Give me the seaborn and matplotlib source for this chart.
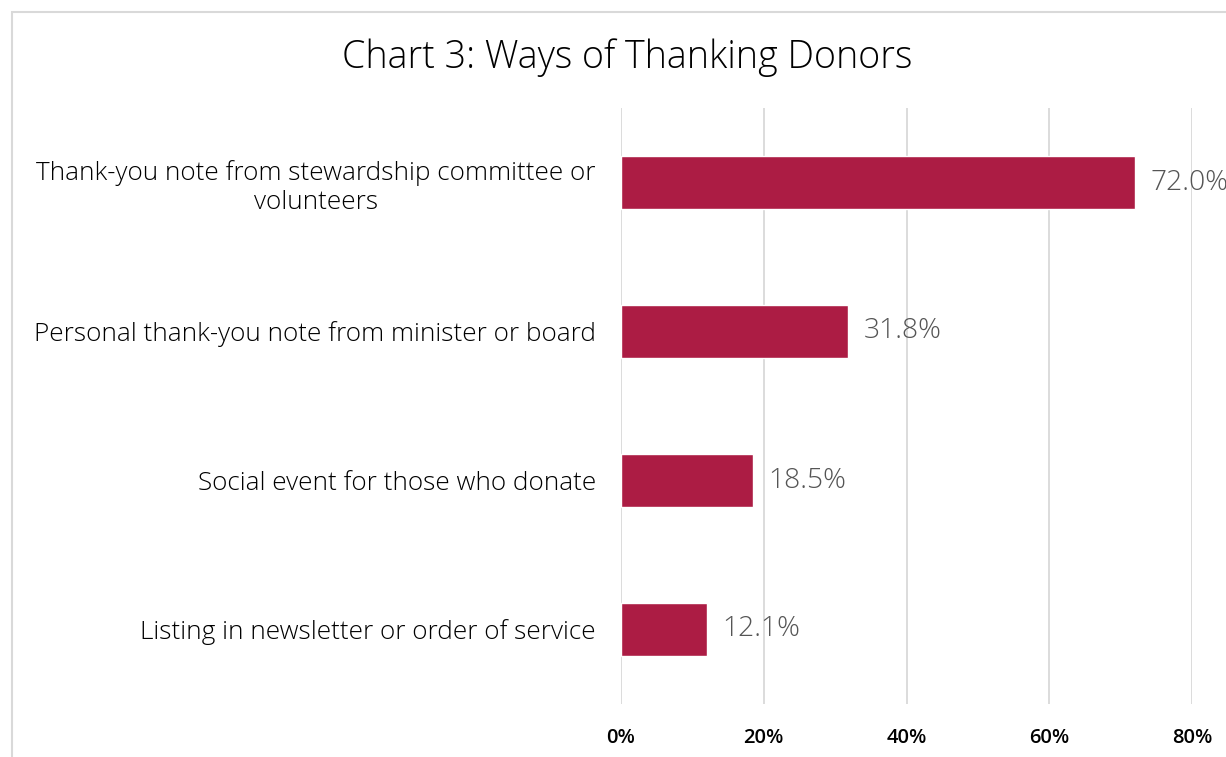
import matplotlib
matplotlib.use("Agg")
import matplotlib.pyplot as plt
from matplotlib.patches import Rectangle
import seaborn as sns
import pandas as pd

# Survey results: share of respondents using each method
categories = [
    "Thank-you note from stewardship committee or\nvolunteers",
    "Personal thank-you note from minister or board",
    "Social event for those who donate",
    "Listing in newsletter or order of service",
]
values = [72.0, 31.8, 18.5, 12.1]
x_ticks = [0, 20, 40, 60, 80]
x_tick_labels = ["0%", "20%", "40%", "60%", "80%"]
title = "Chart 3: Ways of Thanking Donors"

bar_color = "#AC1C44"
grid_color = "#D9D9D9"
label_color = "#555555"

sns.set_theme(style="white")
plt.rcParams["font.family"] = ["Open Sans", "DejaVu Sans"]

W, H = 1226, 757
fig = plt.figure(figsize=(W / 100, H / 100), dpi=100)

# Outer chart frame (runs off the right and bottom edges)
fig.patches.append(Rectangle((12 / W, -0.1), 1.2, 1 - 12 / H + 0.1,
                             transform=fig.transFigure, fill=False,
                             edgecolor="#D9D9D9", linewidth=1.5))

ax = fig.add_axes([621 / W, 1 - 704 / H, (1192 - 621) / W, (704 - 108) / H])

df = pd.DataFrame({"category": categories, "value": values})
sns.barplot(data=df, x="value", y="category", orient="h", color=bar_color,
            saturation=1, width=0.355, ax=ax, zorder=3)

ax.set_xlim(0, 80)
ax.set_ylim(3.5, -0.5)
ax.set_xticks(x_ticks)
ax.set_xticklabels(x_tick_labels, fontsize=14.5, fontweight="semibold",
                   color="#000000")
ax.tick_params(axis="x", length=0, pad=17)
ax.tick_params(axis="y", length=0, pad=18)
for lbl in ax.get_yticklabels():
    lbl.set_fontsize(18.8)
    lbl.set_fontweight("light")
    lbl.set_color("#000000")
    lbl.set_multialignment("center")

ax.grid(axis="x", color=grid_color, linewidth=1.3, zorder=0)
ax.grid(axis="y", visible=False)
for s in ax.spines.values():
    s.set_visible(False)
ax.set_xlabel("")
ax.set_ylabel("")

for i, v in enumerate(values):
    ax.annotate(f"{v:.1f}%", (v, i), xytext=(11, 0), textcoords="offset points",
                va="center", ha="left", fontsize=20.3, fontweight="light",
                color=label_color, zorder=4, annotation_clip=False)

fig.text(627 / W, 1 - 58 / H, title, ha="center", va="center",
         fontsize=27.1, fontweight="light", color="#000000")

fig.savefig("out.png", dpi=100)
